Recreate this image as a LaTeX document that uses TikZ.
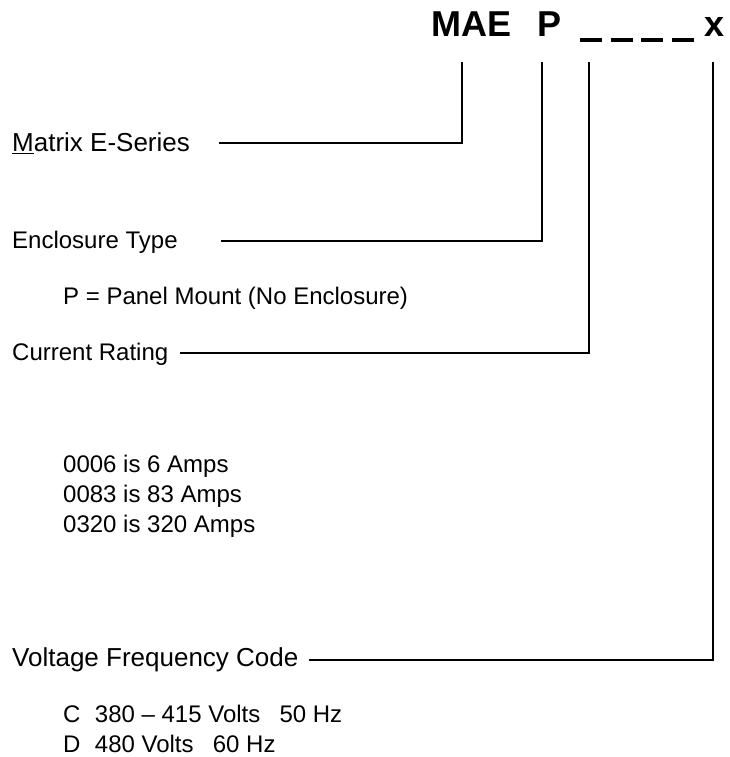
\documentclass[tikz,border=0pt]{standalone}
\usepackage{fontspec}
\setmainfont{Liberation Sans}
\begin{document}
\begin{tikzpicture}[x=1pt,y=-1pt,
  lbl/.style={anchor=west,inner sep=0pt,font=\fontsize{24}{28}\selectfont},
  big/.style={anchor=west,inner sep=0pt,font=\fontsize{26}{30}\selectfont},
  ttl/.style={anchor=base west,inner sep=0pt,font=\fontsize{36}{42}\selectfont\bfseries},
  conn/.style={line width=1.4pt}]
\useasboundingbox (0,0) rectangle (729,757);
% title
\node[ttl] (mae) at (431,37) {MAE};
\node[ttl] (p) at (537,37) {P};
\node[ttl] (blk) at (580,37) {\rule[-5pt]{22pt}{3.5pt}\hspace{8.5pt}\rule[-5pt]{22pt}{3.5pt}\hspace{8.5pt}\rule[-5pt]{22pt}{3.5pt}\hspace{8.5pt}\rule[-5pt]{22pt}{3.5pt}};
\node[ttl] (x) at (704,37) {x};
% taps
\coordinate (t1) at (462,62);
\coordinate (t2) at (542,62);
\coordinate (t3) at (589,62);
\coordinate (t4) at (713,62);
% labels
\node[big] (ms) at (12,143) {\underline{M}atrix E-Series};
\node[lbl] (et) at (12,242) {Enclosure Type};
\node[lbl] (pm) at (63,298) {P = Panel Mount (No Enclosure)};
\node[lbl] (cr) at (12,354) {Current Rating};
\node[lbl] (a1) at (63,466) {0006 is 6 Amps};
\node[lbl] (a2) at (63,496) {0083 is 83 Amps};
\node[lbl] (a3) at (63,526) {0320 is 320 Amps};
\node[big] (vf) at (12,660) {Voltage Frequency Code};
\node[lbl] (v1) at (63,714) {C\hspace{0.6em}380 – 415 Volts\hspace{0.8em}50 Hz};
\node[lbl] (v2) at (63,744) {D\hspace{0.6em}480 Volts\hspace{0.8em}60 Hz};
% connectors
\coordinate (e1) at (219,143);
\coordinate (e2) at (221,241);
\coordinate (e3) at (180,353);
\coordinate (e4) at (309,660);
\draw[conn] (e1) -| (t1);
\draw[conn] (e2) -| (t2);
\draw[conn] (e3) -| (t3);
\draw[conn] (e4) -| (t4);
\end{tikzpicture}
\end{document}
